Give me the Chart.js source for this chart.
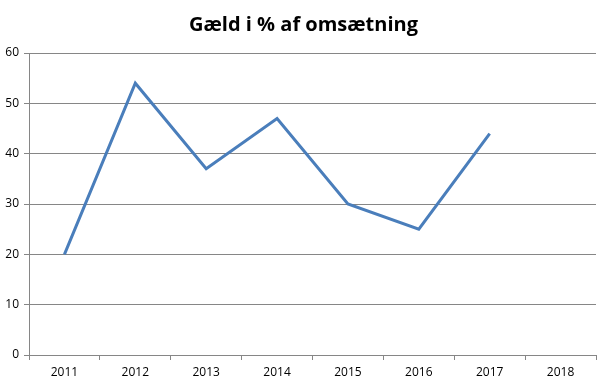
<!DOCTYPE html>
<html>
<head>
<meta charset="utf-8">
<script src="https://cdn.jsdelivr.net/npm/chart.js@4"></script>
<style>
  html, body { margin: 0; padding: 0; background: #fff; }
  #wrap { width: 607px; height: 387px; }
</style>
</head>
<body>
<div id="wrap"><canvas id="chart" width="607" height="387"></canvas></div>
<script>
const years = ['2011', '2012', '2013', '2014', '2015', '2016', '2017', '2018'];
const debtPct = [20, 54, 37, 47, 30, 25, 44, null];
const yTicks = [0, 10, 20, 30, 40, 50, 60];

const gridGray = '#868686';
const fontFamily = '"Open Sans", "DejaVu Sans", sans-serif';

new Chart(document.getElementById('chart'), {
  type: 'line',
  data: {
    labels: years,
    datasets: [{
      label: 'Gæld i % af omsætning',
      data: debtPct,
      borderColor: '#4a7ebb',
      borderWidth: 3,
      pointRadius: 0,
      tension: 0,
      spanGaps: false
    }]
  },
  options: {
    responsive: false,
    animation: false,
    layout: { padding: 0 },
    plugins: {
      legend: { display: false },
      tooltip: { enabled: false },
      title: {
        display: true,
        text: 'Gæld i % af omsætning',
        color: '#000',
        font: { family: fontFamily, size: 20, weight: 'bold', lineHeight: 1.2 },
        padding: { top: 13, bottom: 16 }
      }
    },
    scales: {
      x: {
        offset: true,
        grid: {
          offset: true,
          drawOnChartArea: false,
          drawTicks: true,
          tickLength: 5,
          color: gridGray
        },
        border: { color: gridGray, width: 1 },
        ticks: {
          color: '#000',
          padding: 5,
          maxRotation: 0,
          font: { family: fontFamily, size: 12 }
        },
        afterFit: (scale) => { scale.height = 32; }
      },
      y: {
        min: 0,
        max: 60,
        afterBuildTicks: (scale) => { scale.ticks = yTicks.map((v) => ({ value: v })); },
        grid: {
          color: gridGray,
          tickLength: 5,
          drawTicks: true
        },
        border: { color: gridGray, width: 1 },
        ticks: {
          color: '#000',
          padding: 5,
          font: { family: fontFamily, size: 12 }
        },
        afterFit: (scale) => { scale.width = 29; }
      },
      // empty spacer on the right so the title stays centred on the canvas
      spacer: {
        type: 'linear',
        position: 'right',
        display: true,
        grid: { display: false, drawTicks: false },
        border: { display: false },
        ticks: { display: false },
        afterFit: (scale) => { scale.width = 11; }
      }
    }
  }
});
</script>
</body>
</html>
